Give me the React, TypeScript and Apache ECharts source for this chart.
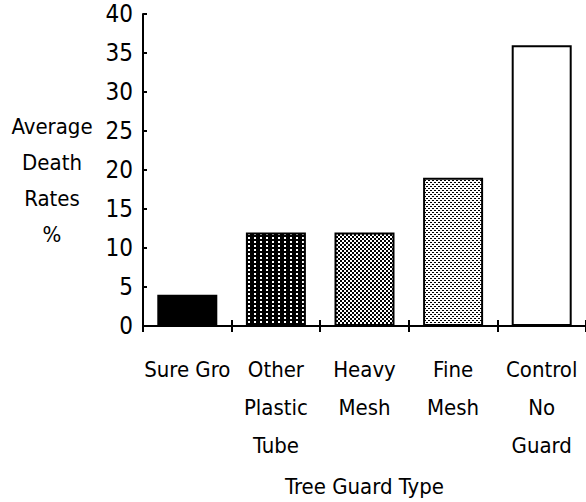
import React, { useEffect, useRef } from "react";
import * as echarts from "echarts";

const categories = ["Sure Gro", "Other\nPlastic\nTube", "Heavy\nMesh", "Fine\nMesh", "Control\nNo\nGuard"];
const deathRates = [4, 12, 12, 19, 36];
const yAxisTitle = "Average\nDeath\nRates\n%";
const xAxisTitle = "Tree Guard Type";

const FONT = "'Liberation Sans Narrow', 'DejaVu Sans Condensed', 'Liberation Sans', sans-serif";

function makeTile(w: number, h: number, isBlack: (x: number, y: number) => boolean): HTMLCanvasElement {
  const c = document.createElement("canvas");
  c.width = w;
  c.height = h;
  const ctx = c.getContext("2d")!;
  ctx.fillStyle = "#fff";
  ctx.fillRect(0, 0, w, h);
  ctx.fillStyle = "#000";
  for (let y = 0; y < h; y++) {
    for (let x = 0; x < w; x++) {
      if (isBlack(x, y)) ctx.fillRect(x, y, 1, 1);
    }
  }
  return c;
}

export default function App() {
  const ref = useRef<HTMLDivElement>(null);
  useEffect(() => {
    if (!ref.current) return;
    const chart = echarts.init(ref.current, null, { renderer: "svg" });

    const plastic = makeTile(6, 4, (x, y) => !(x >= 2 && x <= 3 && y >= 1 && y <= 2));
    const heavy = makeTile(4, 4, (x, y) => ((x >> 1) + (y >> 1)) % 2 === 0);
    const fine = makeTile(4, 4, (x, y) => (y === 0 && x <= 1) || (y === 2 && x >= 2));

    const fills: any[] = [
      "#000000",
      { image: plastic, repeat: "repeat" },
      { image: heavy, repeat: "repeat" },
      { image: fine, repeat: "repeat" },
      "#ffffff",
    ];

    chart.setOption({
      animation: false,
      backgroundColor: "#ffffff",
      grid: { left: 143, right: 0, top: 14, bottom: 175, containLabel: false },
      xAxis: [
        {
          type: "category",
          data: categories,
          position: "bottom",
          boundaryGap: true,
          axisLine: { show: true, lineStyle: { color: "#000", width: 2 } },
          axisTick: { show: true, inside: false, length: 6, lineStyle: { color: "#000", width: 2 } },
          axisLabel: {
            show: true,
            interval: 0,
            margin: 24,
            color: "#000",
            fontFamily: FONT,
            fontSize: 22,
            lineHeight: 38,
            align: "center",
          },
          splitLine: { show: false },
          name: xAxisTitle,
          nameLocation: "middle",
          nameGap: 149,
          nameTextStyle: { color: "#000", fontFamily: FONT, fontSize: 22, verticalAlign: "top" },
        },
        {
          type: "category",
          data: categories,
          position: "bottom",
          boundaryGap: true,
          axisLine: { show: false },
          axisTick: { show: true, inside: true, length: 6, lineStyle: { color: "#000", width: 2 } },
          axisLabel: { show: false },
          splitLine: { show: false },
        },
      ],
      yAxis: {
        type: "value",
        min: 0,
        max: 40,
        interval: 5,
        axisLine: { show: true, lineStyle: { color: "#000", width: 2 } },
        axisTick: { show: true, inside: true, length: 4, lineStyle: { color: "#000", width: 2 } },
        axisLabel: { color: "#000", fontFamily: FONT, fontSize: 24, margin: 10 },
        splitLine: { show: false },
      },
      graphic: [
        {
          type: "text",
          x: 52,
          y: 108,
          style: {
            text: yAxisTitle,
            fill: "#000",
            font: `22px ${FONT}`,
            lineHeight: 36,
            align: "center",
            verticalAlign: "top",
          },
        } as any,
      ],
      series: [
        {
          type: "bar",
          xAxisIndex: 0,
          barWidth: 60,
          data: deathRates.map((v, i) => ({
            value: v,
            itemStyle: { color: fills[i], borderColor: "#000", borderWidth: 2 },
          })),
        },
      ],
    });
    return () => chart.dispose();
  }, []);
  return <div ref={ref} style={{ position: "fixed", left: 0, top: 0, width: 586, height: 502 }} />;
}
